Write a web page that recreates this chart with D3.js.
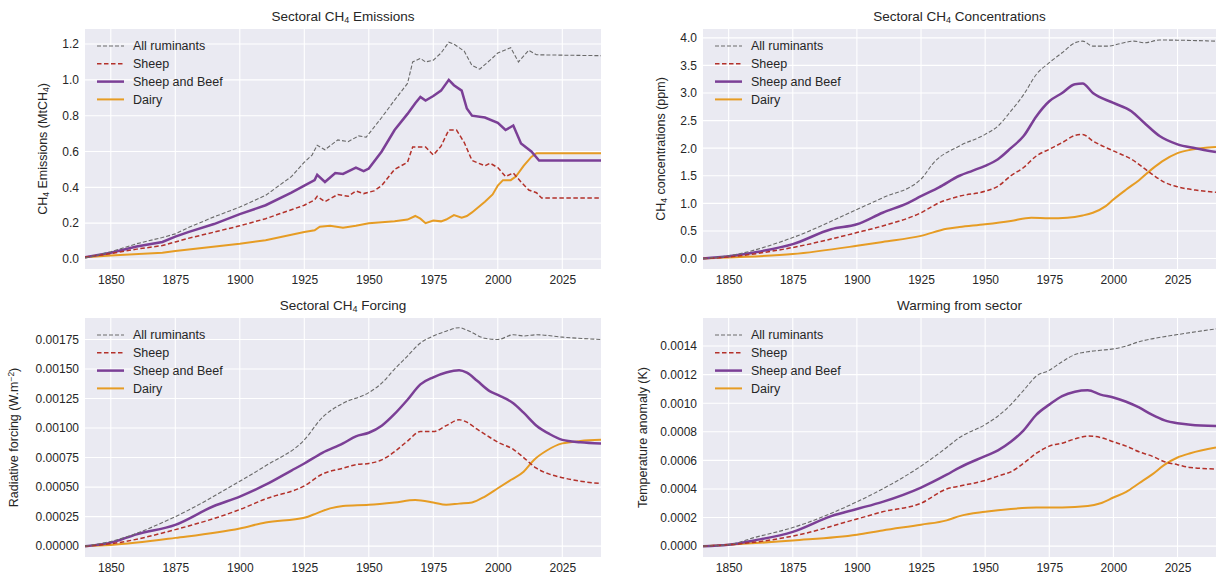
<!DOCTYPE html>
<html lang="en">
<head>
<meta charset="UTF-8">
<title>Sectoral CH4</title>
<script src="https://cdn.jsdelivr.net/npm/d3@7"></script>
<style>
    body{ margin:0; background:#fff; }
    svg{ font-family:"Liberation Sans", Arial, sans-serif; }
    .tick text{ fill:#262626; font-size:12px; }
    .grid line{ stroke:#fff; stroke-width:1.1; }
</style>
</head>
<body>
<svg id="chart" width="1225" height="582"></svg>
<script>
// ---- data (year, value) ----
var xTicks = [1850, 1875, 1900, 1925, 1950, 1975, 2000, 2025];

// emissions, MtCH4
var emisAll = [[1840,0.005],[1850,0.04],[1860,0.085],[1870,0.12],[1875,0.14],[1880,0.175],[1890,0.235],[1900,0.29],[1910,0.355],[1920,0.46],[1925,0.54],[1928,0.58],[1930,0.635],[1933,0.61],[1938,0.665],[1942,0.655],[1946,0.687],[1949,0.68],[1955,0.79],[1960,0.887],[1965,0.98],[1967,1.10],[1970,1.12],[1972,1.10],[1975,1.11],[1978,1.15],[1981,1.21],[1983,1.20],[1987,1.16],[1990,1.08],[1993,1.06],[1997,1.11],[2000,1.15],[2005,1.18],[2008,1.10],[2012,1.165],[2015,1.14],[2040,1.135]];
var emisSheep = [[1840,0.01],[1850,0.03],[1860,0.055],[1870,0.075],[1875,0.095],[1880,0.115],[1890,0.15],[1900,0.185],[1910,0.225],[1920,0.275],[1925,0.30],[1929,0.33],[1930,0.35],[1933,0.32],[1938,0.36],[1942,0.35],[1945,0.38],[1948,0.365],[1952,0.38],[1955,0.41],[1960,0.50],[1965,0.54],[1967,0.625],[1972,0.625],[1975,0.58],[1978,0.63],[1981,0.72],[1984,0.72],[1987,0.65],[1990,0.55],[1995,0.52],[1997,0.535],[2000,0.51],[2003,0.46],[2006,0.48],[2009,0.43],[2012,0.385],[2015,0.37],[2017,0.34],[2040,0.34]];
var emisBeef = [[1840,0.01],[1850,0.035],[1860,0.07],[1870,0.095],[1875,0.125],[1880,0.15],[1890,0.195],[1900,0.25],[1910,0.30],[1920,0.37],[1925,0.41],[1929,0.44],[1930,0.47],[1933,0.43],[1937,0.48],[1940,0.475],[1945,0.51],[1948,0.49],[1950,0.505],[1955,0.60],[1960,0.72],[1965,0.81],[1968,0.87],[1970,0.905],[1972,0.885],[1975,0.91],[1978,0.94],[1981,1.0],[1983,0.97],[1986,0.94],[1988,0.84],[1990,0.80],[1995,0.79],[2000,0.76],[2003,0.72],[2006,0.745],[2009,0.645],[2013,0.60],[2016,0.55],[2040,0.55]];
var emisDairy = [[1840,0.01],[1850,0.02],[1870,0.035],[1875,0.045],[1900,0.085],[1910,0.105],[1920,0.135],[1925,0.15],[1929,0.16],[1931,0.18],[1935,0.185],[1940,0.175],[1945,0.185],[1950,0.20],[1955,0.205],[1960,0.21],[1965,0.22],[1968,0.24],[1970,0.225],[1972,0.20],[1975,0.215],[1978,0.21],[1980,0.22],[1983,0.245],[1986,0.23],[1988,0.24],[1990,0.26],[1995,0.32],[1998,0.36],[2000,0.41],[2002,0.44],[2005,0.44],[2007,0.46],[2010,0.52],[2013,0.57],[2015,0.59],[2040,0.59]];

// concentrations, ppm
var concAll = [[1840,0],[1850,0.05],[1875,0.38],[1900,0.89],[1910,1.10],[1925,1.44],[1930,1.74],[1940,2.04],[1950,2.25],[1955,2.40],[1960,2.67],[1965,2.97],[1970,3.34],[1975,3.55],[1980,3.73],[1985,3.91],[1988,3.94],[1992,3.85],[1998,3.85],[2003,3.90],[2008,3.94],[2012,3.91],[2018,3.96],[2040,3.94]];
var concSheep = [[1840,0],[1850,0.03],[1875,0.20],[1900,0.47],[1910,0.59],[1925,0.83],[1932,1.01],[1940,1.13],[1950,1.22],[1955,1.31],[1960,1.50],[1965,1.65],[1970,1.86],[1975,1.98],[1980,2.10],[1985,2.23],[1988,2.25],[1992,2.13],[2000,1.95],[2007,1.80],[2015,1.53],[2020,1.38],[2025,1.30],[2032,1.24],[2040,1.20]];
var concBeef = [[1840,0],[1850,0.04],[1860,0.11],[1875,0.26],[1890,0.53],[1900,0.62],[1910,0.83],[1920,1.01],[1925,1.13],[1932,1.29],[1940,1.50],[1945,1.59],[1950,1.68],[1955,1.80],[1960,2.00],[1965,2.22],[1970,2.58],[1975,2.85],[1980,3.00],[1985,3.16],[1988,3.17],[1992,3.00],[2000,2.82],[2007,2.67],[2012,2.46],[2018,2.22],[2025,2.07],[2032,2.00],[2040,1.93]];
var concDairy = [[1840,0],[1850,0.02],[1875,0.08],[1900,0.23],[1910,0.30],[1925,0.41],[1935,0.54],[1940,0.57],[1950,0.62],[1960,0.68],[1968,0.74],[1975,0.73],[1982,0.74],[1988,0.78],[1992,0.83],[1997,0.95],[2000,1.07],[2005,1.25],[2010,1.42],[2015,1.62],[2019,1.76],[2025,1.91],[2030,1.97],[2040,2.02]];

// radiative forcing, W m-2
var forcAll = [[1840,0],[1850,0.00004],[1875,0.00025],[1900,0.00055],[1910,0.00068],[1925,0.00090],[1932,0.00109],[1940,0.00121],[1950,0.00130],[1955,0.00138],[1960,0.00150],[1965,0.00161],[1970,0.00172],[1975,0.00178],[1980,0.00182],[1985,0.00185],[1988,0.00183],[1995,0.00176],[2000,0.00175],[2006,0.00179],[2010,0.00178],[2015,0.00179],[2025,0.00177],[2040,0.00175]];
var forcSheep = [[1840,0],[1850,0.00002],[1875,0.00014],[1900,0.00031],[1910,0.00040],[1925,0.00051],[1932,0.00061],[1940,0.00066],[1945,0.00069],[1950,0.00070],[1955,0.00073],[1960,0.00080],[1965,0.00089],[1970,0.00097],[1975,0.00097],[1980,0.00102],[1985,0.00107],[1988,0.00105],[1992,0.00099],[1997,0.00092],[2000,0.00088],[2006,0.00082],[2010,0.00075],[2015,0.00066],[2020,0.00061],[2025,0.00058],[2032,0.00055],[2040,0.00053]];
var forcBeef = [[1840,0],[1850,0.00003],[1860,0.00010],[1875,0.00018],[1890,0.00034],[1900,0.00042],[1910,0.00052],[1920,0.00064],[1925,0.00070],[1932,0.00079],[1940,0.00087],[1945,0.00093],[1950,0.00096],[1955,0.00102],[1960,0.00112],[1965,0.00124],[1970,0.00137],[1975,0.00143],[1980,0.00147],[1985,0.00149],[1988,0.00147],[1992,0.00140],[1997,0.00131],[2000,0.00128],[2006,0.00121],[2010,0.00113],[2015,0.00102],[2020,0.00095],[2025,0.00090],[2032,0.00088],[2040,0.00087]];
var forcDairy = [[1840,0],[1850,0.00001],[1875,0.00007],[1900,0.00015],[1910,0.00020],[1925,0.00024],[1930,0.00028],[1935,0.00032],[1940,0.00034],[1950,0.00035],[1960,0.00037],[1968,0.00039],[1975,0.00037],[1980,0.00035],[1985,0.00036],[1990,0.00037],[1995,0.00042],[2000,0.00049],[2005,0.00056],[2010,0.00063],[2014,0.00073],[2019,0.00081],[2025,0.00087],[2032,0.00089],[2040,0.00090]];

// temperature anomaly, K
var tempAll = [[1840,0],[1850,0.00001],[1860,0.00006],[1875,0.00013],[1900,0.00031],[1910,0.00040],[1925,0.00056],[1935,0.00069],[1940,0.00076],[1950,0.00085],[1955,0.00091],[1960,0.00099],[1965,0.00109],[1970,0.00119],[1975,0.00123],[1980,0.00129],[1985,0.00134],[1990,0.00136],[1995,0.00137],[2000,0.00138],[2005,0.00140],[2010,0.00143],[2015,0.00145],[2025,0.00148],[2040,0.00152]];
var tempSheep = [[1840,0],[1850,0.00001],[1875,0.00007],[1900,0.00019],[1910,0.00024],[1925,0.00030],[1935,0.00040],[1940,0.00042],[1950,0.00046],[1955,0.00049],[1960,0.00052],[1965,0.00058],[1970,0.00065],[1975,0.00070],[1980,0.00072],[1985,0.00075],[1990,0.00077],[1995,0.00076],[2000,0.00073],[2005,0.00070],[2010,0.00066],[2015,0.00063],[2020,0.00059],[2025,0.00057],[2030,0.00055],[2040,0.00054]];
var tempBeef = [[1840,0],[1850,0.00001],[1860,0.00004],[1875,0.00010],[1890,0.00021],[1900,0.00026],[1910,0.00031],[1925,0.00041],[1935,0.00050],[1940,0.00055],[1950,0.00063],[1955,0.00067],[1960,0.00073],[1965,0.00081],[1970,0.00092],[1975,0.00099],[1980,0.00105],[1985,0.00108],[1990,0.00109],[1995,0.00106],[2000,0.00104],[2005,0.00101],[2010,0.00097],[2015,0.00092],[2020,0.00088],[2025,0.00086],[2030,0.00085],[2040,0.00084]];
var tempDairy = [[1840,0],[1850,0.00001],[1875,0.00004],[1900,0.00008],[1910,0.00011],[1925,0.00015],[1935,0.00018],[1940,0.00021],[1950,0.00024],[1960,0.00026],[1970,0.00027],[1980,0.00027],[1990,0.00028],[1995,0.00030],[2000,0.00034],[2005,0.00038],[2010,0.00044],[2015,0.00050],[2020,0.00057],[2025,0.00062],[2030,0.00065],[2040,0.00069]];

var seriesNames = ["All ruminants", "Sheep", "Sheep and Beef", "Dairy"];

// ---- styles ----
var styles = [
    {color:"#6a6a6a", width:1.1, dash:"4,2"},
    {color:"#b3312a", width:1.5, dash:"4.5,2.5"},
    {color:"#7b3f96", width:2.5, dash:null},
    {color:"#e69c24", width:2, dash:null}
];

var panels = [
    {title:["Sectoral CH","4"," Emissions"], ylab:[["CH",0],["4",1],[" Emissions (MtCH",0],["4",1],[")",0]],
     data:[emisAll, emisSheep, emisBeef, emisDairy], curve:d3.curveLinear,
     box:{l:85, r:601, t:29, b:269}, yDom:[-0.056, 1.284], yTicks:d3.range(0, 1.21, 0.2), fmt:d3.format(".1f"), ylx:47},
    {title:["Sectoral CH","4"," Concentrations"], ylab:[["CH",0],["4",1],[" concentrations (ppm)",0]],
     data:[concAll, concSheep, concBeef, concDairy], curve:d3.curveMonotoneX,
     box:{l:703, r:1216, t:29, b:269}, yDom:[-0.19, 4.16], yTicks:d3.range(0, 4.01, 0.5), fmt:d3.format(".1f"), ylx:665},
    {title:["Sectoral CH","4"," Forcing"], ylab:[["Radiative forcing (W.m",0],["\u22122",2],[")",0]],
     data:[forcAll, forcSheep, forcBeef, forcDairy], curve:d3.curveMonotoneX,
     box:{l:85, r:601, t:318, b:557}, yDom:[-0.000092, 0.001932], yTicks:d3.range(0, 0.00176, 0.00025), fmt:d3.format(".5f"), ylx:18},
    {title:["Warming from sector"], ylab:[["Temperature anomaly (K)",0]],
     data:[tempAll, tempSheep, tempBeef, tempDairy], curve:d3.curveMonotoneX,
     box:{l:703, r:1216, t:318, b:557}, yDom:[-0.000076, 0.001596], yTicks:d3.range(0, 0.00141, 0.0002), fmt:d3.format(".4f"), ylx:647}
];

var svg = d3.select("#chart");

panels.forEach(function(p){
    var b = p.box;
    var x = d3.scaleLinear().domain([1840, 2040]).range([b.l, b.r]);
    var y = d3.scaleLinear().domain(p.yDom).range([b.b, b.t]);
    var g = svg.append("g");

    g.append("rect").attr("x", b.l).attr("y", b.t)
        .attr("width", b.r - b.l).attr("height", b.b - b.t).attr("fill", "#eaeaf2");

    // grid
    g.append("g").attr("class", "grid").selectAll("line").data(xTicks).enter().append("line")
        .attr("x1", x).attr("x2", x).attr("y1", b.t).attr("y2", b.b);
    g.append("g").attr("class", "grid").selectAll("line").data(p.yTicks).enter().append("line")
        .attr("x1", b.l).attr("x2", b.r).attr("y1", y).attr("y2", y);

    // axes
    var xa = g.append("g").attr("transform", "translate(0," + b.b + ")")
        .call(d3.axisBottom(x).tickValues(xTicks).tickFormat(d3.format("d")).tickSize(0).tickPadding(6));
    var ya = g.append("g").attr("transform", "translate(" + b.l + ",0)")
        .call(d3.axisLeft(y).tickValues(p.yTicks).tickFormat(p.fmt).tickSize(0).tickPadding(6));
    xa.select(".domain").remove();
    ya.select(".domain").remove();

    // lines
    var clipId = "clip" + b.l + "_" + b.t;
    g.append("clipPath").attr("id", clipId).append("rect")
        .attr("x", b.l).attr("y", b.t).attr("width", b.r - b.l).attr("height", b.b - b.t);
    var line = d3.line().x(function(d){ return x(d[0]); }).y(function(d){ return y(d[1]); }).curve(p.curve);
    // draw in the order dairy, beef, sheep, all so dashed lines sit on top like the reference
    [3, 2, 1, 0].forEach(function(i){
        g.append("path").datum(p.data[i]).attr("d", line)
            .attr("clip-path", "url(#" + clipId + ")")
            .attr("fill", "none").attr("stroke", styles[i].color)
            .attr("stroke-width", styles[i].width)
            .attr("stroke-dasharray", styles[i].dash);
    });

    // title
    var t = g.append("text").attr("x", (b.l + b.r) / 2).attr("y", b.t - 8)
        .attr("text-anchor", "middle").attr("font-size", 13.5).attr("fill", "#262626");
    p.title.forEach(function(s, k){
        var ts = t.append("tspan").text(s);
        if (k == 1) ts.attr("font-size", 9).attr("dy", 2);
        if (k == 2) ts.attr("dy", -2);
    });

    // y label
    var yl = g.append("text").attr("transform", "translate(" + p.ylx + "," + ((b.t + b.b) / 2) + ") rotate(-90)")
        .attr("text-anchor", "middle").attr("font-size", 12.5).attr("fill", "#262626");
    var shift = 0;
    p.ylab.forEach(function(s){
        var ts = yl.append("tspan").text(s[0]);
        var want = s[1] == 1 ? 2 : (s[1] == 2 ? -4 : 0);
        ts.attr("dy", want - shift);
        shift = want;
        if (s[1] > 0) ts.attr("font-size", 8.5);
    });

    // legend
    var lg = g.append("g").attr("transform", "translate(" + (b.l + 12) + "," + (b.t + 17) + ")");
    seriesNames.forEach(function(n, i){
        var row = lg.append("g").attr("transform", "translate(0," + (i * 17.8) + ")");
        row.append("line").attr("x1", 0).attr("x2", 27).attr("y1", 0).attr("y2", 0)
            .attr("stroke", styles[i].color).attr("stroke-width", styles[i].width)
            .attr("stroke-dasharray", styles[i].dash);
        row.append("text").attr("x", 36).attr("y", 4.3).attr("font-size", 12.5)
            .attr("fill", "#262626").text(n);
    });
});
</script>
</body>
</html>
